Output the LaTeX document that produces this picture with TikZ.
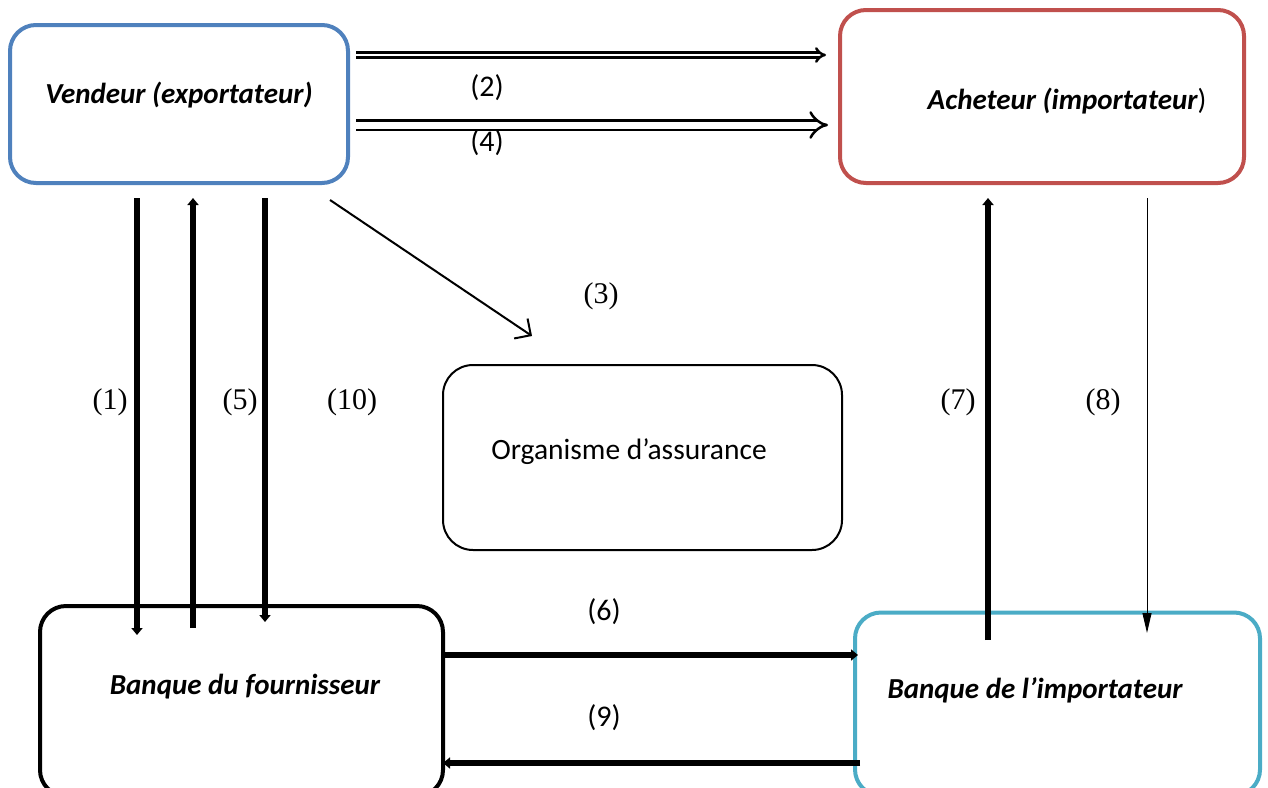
\documentclass[tikz,border=0pt]{standalone}
\usepackage{fontspec}
\setmainfont{Carlito}
\newfontfamily\numfont{Liberation Serif}
\usetikzlibrary{arrows.meta}
\definecolor{boxblue}{HTML}{4F81BD}
\definecolor{boxred}{HTML}{C0504D}
\definecolor{boxcyan}{HTML}{4BACC6}
\tikzset{
  actor/.style={draw, line width=4pt, rounded corners=26pt, inner sep=0pt},
  agency/.style={draw, line width=2pt, rounded corners=30pt, inner sep=0pt},
  boxtext/.style={font=\fontsize{29}{34}\selectfont\bfseries\itshape, inner sep=0pt},
  plaintext/.style={font=\fontsize{29.5}{34}\selectfont, inner sep=0pt},
  sanslabel/.style={font=\fontsize{30}{34}\selectfont, inner sep=0pt},
  seriflabel/.style={font=\fontsize{30}{34}\selectfont\numfont, inner sep=0pt},
  flow/.style={line width=6pt, -{Triangle[length=7pt,width=11pt]}},
  thinflow/.style={line width=1pt, -{Triangle[length=20pt,width=9pt]}},
  docflow/.style={line width=2pt, -{Straight Barb[length=12pt,width=24pt]}},
  hollowflow/.style={double, line width=2.5pt, -{Implies}},
}
\begin{document}
\begin{tikzpicture}[x=1pt,y=-1pt]
\clip (0,0) rectangle (1268,787);
\useasboundingbox (0,0) rectangle (1268,787);

% parties
\node[actor, draw=boxblue, minimum width=338pt, minimum height=158pt] (vend) at (179,104) {};
\node[boxtext] (vendt) at (179,95) {Vendeur (exportateur)};
\node[actor, draw=boxred, minimum width=404pt, minimum height=173pt] (ach) at (1042,96.5) {};
\node[boxtext] (acht) at (1067,101) {Acheteur (importateur\normalfont)};
\node[agency, minimum width=399pt, minimum height=185pt] (org) at (642.5,457.5) {};
\node[plaintext] (orgt) at (629,452) {Organisme d’assurance};
\node[actor, draw=black, minimum width=403pt, minimum height=190pt] (bf) at (241.5,701) {};
\node[boxtext] (bft) at (245,687) {Banque du fournisseur};
\node[actor, draw=boxcyan, minimum width=405pt, minimum height=183pt] (bi) at (1057.5,704) {};
\node[boxtext] (bit) at (1035,690) {Banque de l’importateur};

% labels
\node[sanslabel] (l2) at (487,88) {(2)};
\node[sanslabel] (l4) at (487,143) {(4)};
\node[sanslabel] (l6) at (604,612) {(6)};
\node[sanslabel] (l9) at (604,718) {(9)};
\node[seriflabel] (l3) at (601,296) {(3)};
\node[seriflabel] (l1) at (110,402) {(1)};
\node[seriflabel] (l5) at (240,402) {(5)};
\node[seriflabel] (l10) at (352,402) {(10)};
\node[seriflabel] (l7) at (958,402) {(7)};
\node[seriflabel] (l8) at (1103,402) {(8)};

% connector end points
\coordinate (a1s) at (137,198);  \coordinate (a1e) at (137,635);
\coordinate (a5s) at (193,628);  \coordinate (a5e) at (193,198);
\coordinate (a10s) at (265,198); \coordinate (a10e) at (265,622);
\coordinate (a7s) at (988,640);  \coordinate (a7e) at (988,198);
\coordinate (a8s) at (1147,198); \coordinate (a8e) at (1147,633);
\coordinate (a6s) at (443,655);  \coordinate (a6e) at (858,655);
\coordinate (a9s) at (860,763);  \coordinate (a9e) at (443,763);
\coordinate (a3s) at (330,200);  \coordinate (a3e) at (532,336);
\coordinate (a2s) at (356,55);   \coordinate (a2e) at (826,55);
\coordinate (a4s) at (356,125);  \coordinate (a4e) at (828,125);

% flows
\draw[flow] (a1s) -- (a1e);
\draw[flow] (a5s) -- (a5e);
\draw[flow] (a10s) -- (a10e);
\draw[flow] (a7s) -- (a7e);
\draw[thinflow] (a8s) -- (a8e);
\draw[flow] (a6s) -- (a6e);
\draw[flow] (a9s) -- (a9e);
\draw[docflow] (a3s) -- (a3e);
\draw[hollowflow, double distance=2.5pt] (a2s) -- (a2e);
\draw[hollowflow, double distance=7pt] (a4s) -- (a4e);
\end{tikzpicture}
\end{document}
